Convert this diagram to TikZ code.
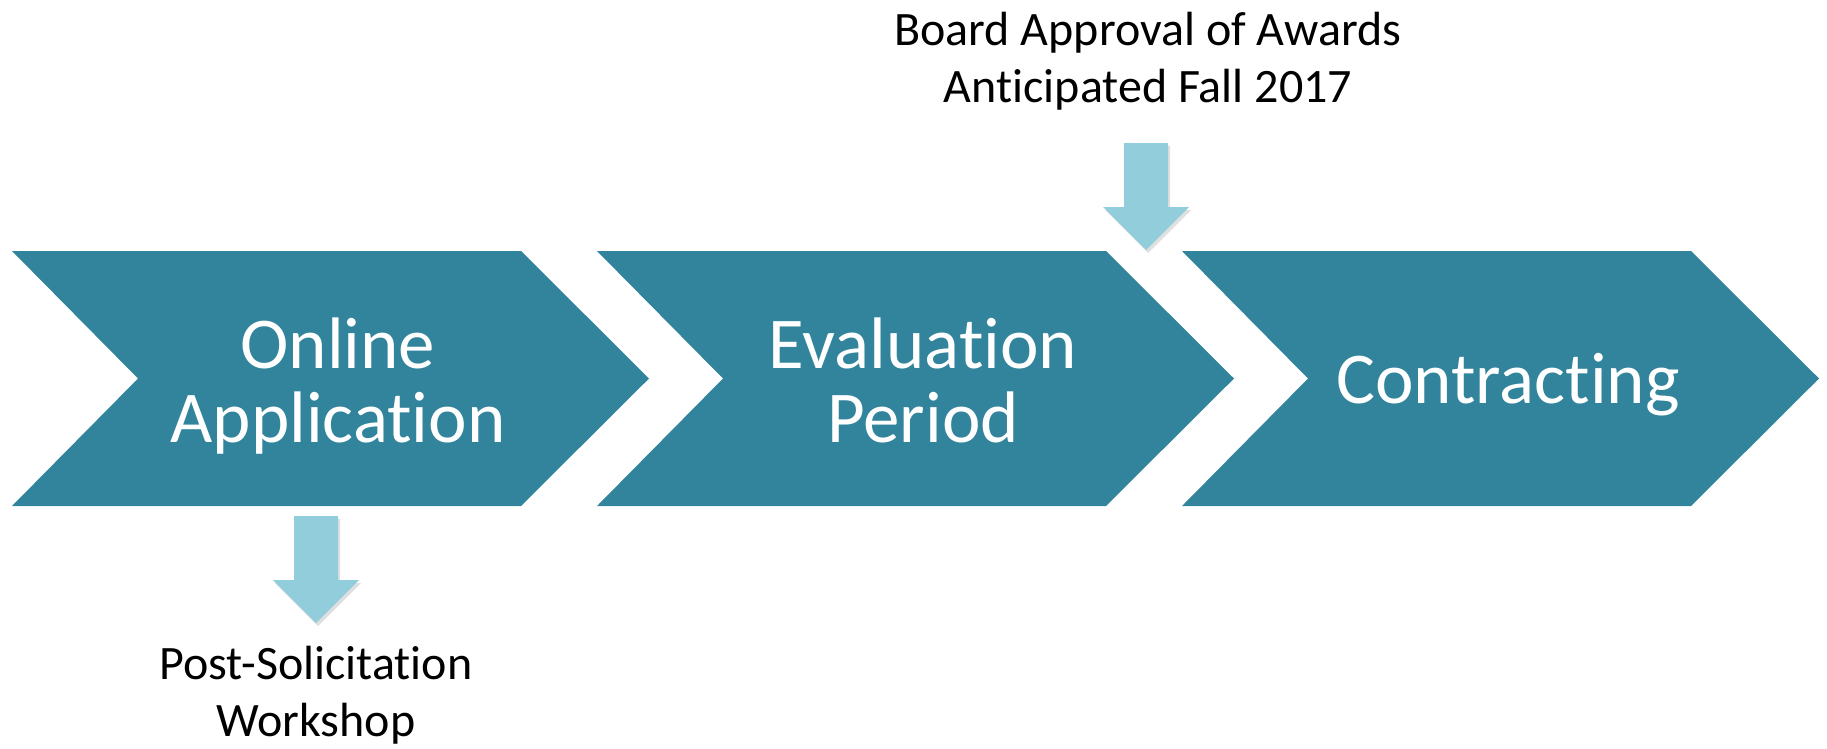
\documentclass[tikz,border=0pt]{standalone}
\usepackage{fontspec}
\setmainfont{Carlito}[Ligatures={NoCommon}]
\usepackage{tikz}
\usetikzlibrary{shadows}
\definecolor{stageteal}{HTML}{31849B}
\definecolor{arrowblue}{HTML}{92CDDC}
\tikzset{
  stage/.style = {fill=stageteal},
  stagelabel/.style = {text=white, align=center, inner sep=0pt, font=\fontsize{73}{74}\selectfont},
  note/.style = {text=black, align=center, inner sep=0pt, font=\fontsize{48}{57}\selectfont},
  downarrow/.pic = {
    \fill [arrowblue, drop shadow={shadow xshift=2pt, shadow yshift=-3pt, opacity=0.25}]
      (-22,0) -- (22,0) -- (22,64) -- (43,64) -- (0,107) -- (-43,64) -- (-22,64) -- cycle;
  }
}

\begin{document}
\begin{tikzpicture}[x=1pt, y=-1pt]
\useasboundingbox (0,0) rectangle (1827,748);
% chevrons
\foreach \x in {12, 597, 1182}
  \fill [stage] (\x,251) -- ++(509,0) -- ++(128,127.5) -- ++(-128,127.5) -- ++(-509,0) -- ++(126,-127.5) -- cycle;
\node [stagelabel, anchor=base] (online) at (338,442) {Online\\Application};
\node [stagelabel, anchor=base] (eval) at (923,442) {Evaluation\\Period};
\node [stagelabel, anchor=base] (contract) at (1508,403) {Contracting};
% milestones
\pic (award) at (1146,143) {downarrow};
\pic (workshop) at (316,516) {downarrow};
\node [note, anchor=base] (board) at (1148,102) {Board Approval of Awards\\Anticipated Fall 2017};
\node [note, anchor=base] (solicit) at (316,736) {Post-Solicitation\\Workshop};
\end{tikzpicture}
\end{document}
